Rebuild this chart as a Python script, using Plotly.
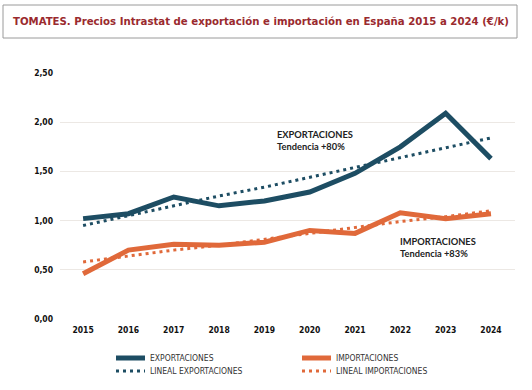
import plotly.graph_objects as go

years = [2015, 2016, 2017, 2018, 2019, 2020, 2021, 2022, 2023, 2024]
exportaciones = [1.02, 1.07, 1.24, 1.15, 1.20, 1.29, 1.48, 1.75, 2.09, 1.63]
importaciones = [0.46, 0.70, 0.76, 0.75, 0.78, 0.90, 0.87, 1.08, 1.02, 1.07]
lineal_exportaciones = [0.95, 1.05, 1.15, 1.25, 1.34, 1.44, 1.54, 1.64, 1.74, 1.84]
lineal_importaciones = [0.58, 0.64, 0.70, 0.75, 0.81, 0.87, 0.93, 0.99, 1.04, 1.10]
y_ticks = [0, 0.5, 1.0, 1.5, 2.0, 2.5]
y_tick_labels = ["0,00", "0,50", "1,00", "1,50", "2,00", "2,50"]

C_EXP = "#1d4d63"
C_IMP = "#e0693a"
COND = "DejaVu Sans Condensed"

# plot area in pixels: x 60..515, y 73..319
def px(x):
    return (x - 60) / 455

def py(y):
    return (319 - y) / 246

series = [
    ("EXPORTACIONES", exportaciones, C_EXP, 5, "solid"),
    ("IMPORTACIONES", importaciones, C_IMP, 5, "solid"),
    ("LINEAL EXPORTACIONES", lineal_exportaciones, C_EXP, 3, "3px,4px"),
    ("LINEAL IMPORTACIONES", lineal_importaciones, C_IMP, 3, "3px,4px"),
]

fig = go.Figure()
for name, vals, col, w, dash in series:
    fig.add_trace(go.Scatter(x=years, y=vals, name=name, mode="lines",
                             line=dict(color=col, width=w, dash=dash), showlegend=False))

# manual legend (two columns, two rows)
legend_pos = [(116, 358), (302, 358), (116, 371), (302, 371)]
shapes = [dict(type="rect", xref="paper", yref="paper",
               x0=px(3), x1=px(517), y0=py(38), y1=py(5),
               line=dict(color="#9a9a9a", width=1), fillcolor="rgba(0,0,0,0)", layer="above")]
annotations = []
for (name, vals, col, w, dash), (lx, ly) in zip(series, legend_pos):
    shapes.append(dict(type="line", xref="paper", yref="paper",
                       x0=px(lx), x1=px(lx + 29), y0=py(ly), y1=py(ly),
                       line=dict(color=col, width=w if dash == "solid" else 3,
                                 dash=dash)))
    annotations.append(dict(x=px(lx + 32), y=py(ly), xref="paper", yref="paper",
                            xanchor="left", yanchor="middle", showarrow=False, text=name,
                            font=dict(family=COND, size=8.5, color="#333333")))

annotations += [
    dict(x=2019.24, y=1.95, xref="x", yref="y", xanchor="left", yanchor="top", align="left",
         showarrow=False, text="EXPORTACIONES<br>Tendencia +80%",
         font=dict(family="Lato", size=9.3, color="#222222", weight="bold")),
    dict(x=2021.95, y=0.86, xref="x", yref="y", xanchor="left", yanchor="top", align="left",
         showarrow=False, text="IMPORTACIONES<br>Tendencia +83%",
         font=dict(family="Lato", size=9.3, color="#222222", weight="bold")),
]

fig.update_layout(
    width=532, height=390,
    margin=dict(l=60, r=17, t=73, b=71),
    paper_bgcolor="white", plot_bgcolor="white",
    showlegend=False,
    title=dict(text="<b>TOMATES. Precios Intrastat de exportación e importación en España 2015 a 2024 (€/k)</b>",
               x=0.4906, xref="container", xanchor="center", y=1 - 21 / 390, yref="container",
               yanchor="middle", font=dict(family=COND, size=11.3, color="#9a2a2e")),
    xaxis=dict(range=[2014.49, 2024.53], tickvals=years, ticktext=[str(y) for y in years],
               showgrid=False, zeroline=False, showline=False, automargin=False,
               tickfont=dict(family=COND, size=8.5, color="#111111", weight="bold"),
               ticklabelstandoff=4),
    yaxis=dict(range=[0, 2.5], tickvals=y_ticks, ticktext=y_tick_labels,
               showgrid=True, gridcolor="#ece8e4", gridwidth=1, zeroline=False, showline=False,
               automargin=False,
               tickfont=dict(family=COND, size=8.5, color="#111111", weight="bold"),
               ticklabelstandoff=6),
    shapes=shapes,
    annotations=annotations,
)

fig.write_html("out.html", config={"displayModeBar": False},
               post_script="document.body.style.margin='0';document.body.style.overflow='hidden';")
